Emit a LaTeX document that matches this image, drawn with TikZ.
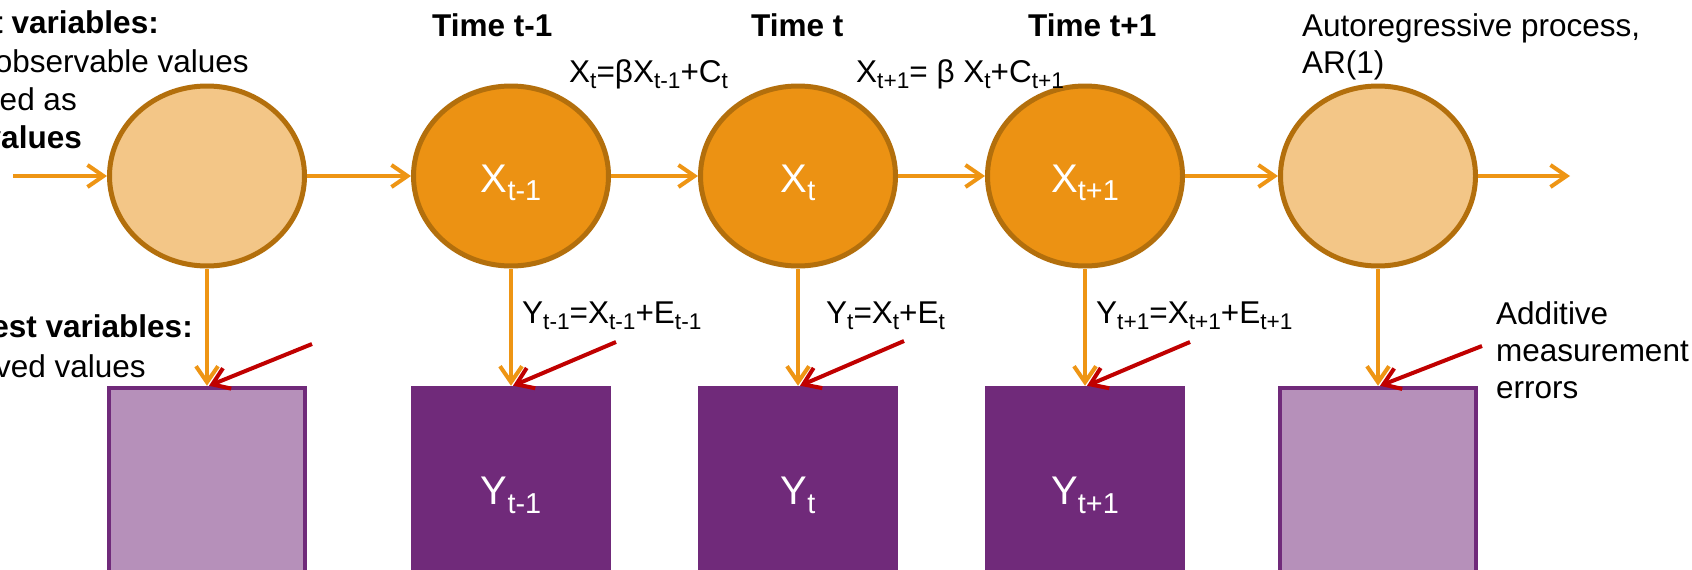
\documentclass[tikz,border=0pt]{standalone}
\usepackage{fontspec}
\setmainfont{Liberation Sans}
\usetikzlibrary{shapes.geometric,arrows.meta}
\definecolor{orfill}{HTML}{EC9213}
\definecolor{orline}{HTML}{B36F0C}
\definecolor{orlight}{HTML}{F3C687}
\definecolor{orarrow}{HTML}{EE9514}
\definecolor{purp}{HTML}{702A7A}
\definecolor{purlight}{HTML}{B690BA}
\definecolor{redline}{HTML}{C00000}
\newcommand\lowsub[1]{\raisebox{-0.22em}{\scalebox{0.72}{#1}}}
\begin{document}
\begin{tikzpicture}[x=1pt,y=-1pt,
  lat/.style={ellipse, draw=orline, line width=5pt, minimum width=195pt, minimum height=180pt,
    inner sep=0pt, text=white, font=\fontsize{40}{48}\selectfont, text height=32pt, text depth=0pt},
  latdark/.style={lat, fill=orfill},
  latlight/.style={lat, fill=orlight},
  obs/.style={rectangle, draw=purp, line width=4.5pt, minimum width=196pt, minimum height=204pt,
    inner sep=0pt, text=white, font=\fontsize{40}{48}\selectfont, text height=29pt, text depth=0pt},
  obsdark/.style={obs, fill=purp},
  obslight/.style={obs, fill=purlight},
  flow/.style={draw=orarrow, line width=4pt, -{Straight Barb[length=16pt,width=22pt]}},
  err/.style={draw=redline, line width=4pt, -{Straight Barb[length=16pt,width=22pt]}},
  lbl/.style={inner sep=0pt, font=\fontsize{31.5}{37}\selectfont},
  blbl/.style={inner sep=0pt, font=\fontsize{31.5}{37}\selectfont\bfseries},
]
\useasboundingbox (0,0) rectangle (1692,570);
\clip (0,0) rectangle (1692,570);
\fill[white] (0,0) rectangle (1692,570);

% latent row
\node[latlight] (e1) at (207,176) {};
\node[latdark]  (e2) at (511,176) {X\lowsub{t-1}};
\node[latdark]  (e3) at (798,176) {X\lowsub{t}};
\node[latdark]  (e4) at (1085,176) {X\lowsub{t+1}};
\node[latlight] (e5) at (1378,176) {};

% observed row
\node[obslight] (b1) at (207,490) {};
\node[obsdark]  (b2) at (511,490) {Y\lowsub{t-1}};
\node[obsdark]  (b3) at (798,490) {Y\lowsub{t}};
\node[obsdark]  (b4) at (1085,490) {Y\lowsub{t+1}};
\node[obslight] (b5) at (1378,490) {};

% horizontal flow
\coordinate (in) at (13,176);
\coordinate (out) at (1570,176);
\draw[flow] (in) -- (e1);
\draw[flow] (e1) -- (e2);
\draw[flow] (e2) -- (e3);
\draw[flow] (e3) -- (e4);
\draw[flow] (e4) -- (e5);
\draw[flow] (e5) -- (out);

% vertical flow
\foreach \i in {1,...,5}{
  \draw[flow] (e\i.south) -- (b\i.north);
}

% measurement errors
\coordinate (r1) at (312,344);
\coordinate (r2) at (616,342);
\coordinate (r3) at (904,341);
\coordinate (r4) at (1190,342);
\coordinate (r5) at (1482,346);
\foreach \i in {1,...,5}{
  \draw[err] (r\i) -- ([xshift=2pt]b\i.north);
}

% left texts
\node[blbl, anchor=base east] (l1) at (159,33) {t variables:};
\node[lbl,  anchor=base east] (l2) at (249,72) {observable values};
\node[lbl,  anchor=base east] (l3) at (77,110) {ed as};
\node[blbl, anchor=base east] (l4) at (82,148) {values};
\node[blbl, anchor=base east] (l5) at (193,337) {est variables:};
\node[lbl,  anchor=base east] (l6) at (146,377) {ved values};

% time labels
\node[blbl, anchor=base west] (t1) at (432,36) {Time t-1};
\node[blbl, anchor=base west] (t2) at (751,36) {Time t};
\node[blbl, anchor=base west] (t3) at (1028,36) {Time t+1};

% equations
\node[lbl, anchor=base west] (q1) at (569,82) {X\lowsub{t}=βX\lowsub{t-1}+C\lowsub{t}};
\node[lbl, anchor=base west] (q2) at (856,82) {X\lowsub{t+1}= β X\lowsub{t}+C\lowsub{t+1}};
\node[lbl, anchor=base west] (y1) at (522,323) {Y\lowsub{t-1}=X\lowsub{t-1}+E\lowsub{t-1}};
\node[lbl, anchor=base west] (y2) at (826,323) {Y\lowsub{t}=X\lowsub{t}+E\lowsub{t}};
\node[lbl, anchor=base west] (y3) at (1096,323) {Y\lowsub{t+1}=X\lowsub{t+1}+E\lowsub{t+1}};

% right texts
\node[lbl, anchor=base west] (a1) at (1302,36) {Autoregressive process,};
\node[lbl, anchor=base west] (a2) at (1302,73) {AR(1)};
\node[lbl, anchor=base west] (m1) at (1496,324) {Additive};
\node[lbl, anchor=base west] (m2) at (1496,361) {measurement};
\node[lbl, anchor=base west] (m3) at (1496,398) {errors};
\end{tikzpicture}
\end{document}
